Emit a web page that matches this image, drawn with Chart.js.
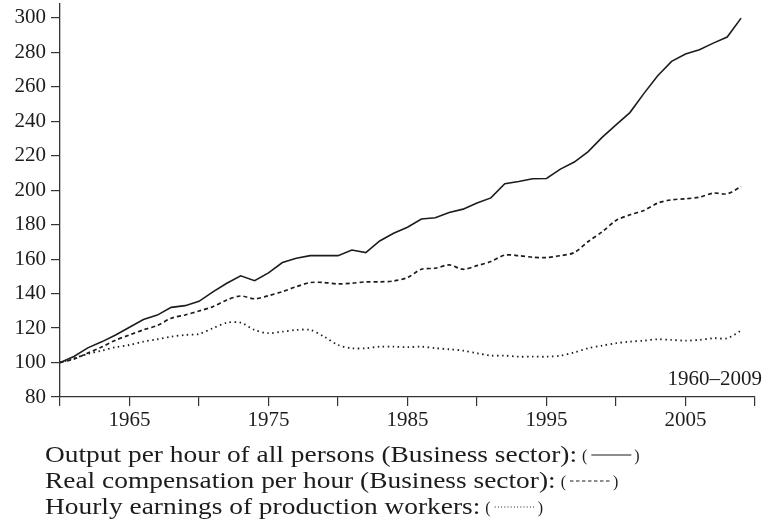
<!DOCTYPE html>
<html>
<head>
<meta charset="utf-8">
<script src="https://cdn.jsdelivr.net/npm/chart.js@4"></script>
<style>
  html, body { margin: 0; padding: 0; background: #fff; }
  #chart { display: block; }
</style>
</head>
<body>
<canvas id="chart" width="771" height="523"></canvas>
<script>
// index numbers, 1960 = 100
var years = [];
for (var yr = 1960; yr <= 2009; yr++) years.push(yr);

var outputPerHour = [
    100, 103.5, 108.5, 112, 116, 120.5, 125, 127.5, 132, 133,
    135.5, 141, 146, 150.3, 147.5, 152, 158, 160.5, 162, 162,
    162, 165.3, 163.8, 170.5, 175, 178.5, 183.3, 184, 187, 189,
    192.6, 195.5, 203.7, 205, 206.6, 206.8, 212.2, 216.3, 222.4, 230.6,
    237.9, 245, 256, 266.4, 274.7, 279, 281.5, 285.3, 288.8, 299.8
];
var realCompensation = [
    100, 102, 105.5, 109, 113, 116, 119, 121.5, 125.7, 127.6,
    129.9, 132.4, 136.3, 138.6, 137, 138.8, 141.1, 144, 146.4, 146.4,
    145.6, 146, 146.8, 146.8, 147.3, 149.3, 154.1, 154.7, 156.6, 154.1,
    156.2, 158.6, 162.3, 162, 161.1, 160.9, 162, 163.8, 170.2, 175.8,
    182.4, 185.7, 188.2, 192.5, 194.4, 195, 195.9, 198.3, 197.9, 202.1
];
var hourlyEarnings = [
    100, 102.5, 105, 106.9, 108.9, 110.2, 112.1, 113.5, 115, 116,
    116.6, 119.9, 123.1, 123.1, 118.9, 117, 117.9, 118.9, 118.9, 115,
    110.2, 108.3, 108.3, 109.2, 109.2, 108.9, 109.2, 108.3, 107.7, 106.9,
    105.4, 104, 104, 103.4, 103.4, 103.4, 104, 105.9, 108.3, 109.8,
    111.2, 112.1, 112.7, 113.5, 113.1, 112.7, 113.1, 114.1, 114.1, 118.5
];

var xTicks = [1960, 1965, 1970, 1975, 1980, 1985, 1990, 1995, 2000, 2005, 2010];
var xLabels = [1965, 1975, 1985, 1995, 2005];
var yTicks = [80, 100, 120, 140, 160, 180, 200, 220, 240, 260, 280, 300];

var legendLines = [
    { text: 'Output per hour of all persons (Business sector):', dash: [] },
    { text: 'Real compensation per hour (Business sector):', dash: [3.5, 2.5] },
    { text: 'Hourly earnings of production workers:', dash: [1, 2.2] }
];
var periodLabel = '1960\u20132009';

var FONT = '"Liberation Serif", "Times New Roman", serif';
var INK = '#1c1c1c';

function toPoints(values) {
    return values.map(function(v, i) { return { x: years[i], y: v }; });
}

// the original uses a wide TeX face, so stretch the legend text to its width
var legendPlugin = {
    id: 'texLegend',
    afterDraw: function(chart) {
        var ctx = chart.ctx;
        ctx.save();
        ctx.fillStyle = INK;
        ctx.strokeStyle = INK;
        ctx.textBaseline = 'alphabetic';

        ctx.font = '21px ' + FONT;
        ctx.textAlign = 'right';
        ctx.fillText(periodLabel, 762, 385);

        ctx.textAlign = 'left';
        ctx.font = '23px ' + FONT;
        var sx = 532 / ctx.measureText(legendLines[0].text).width;
        var baselines = [462, 488, 514];
        legendLines.forEach(function(item, i) {
            var y = baselines[i];
            ctx.font = '23px ' + FONT;
            ctx.save();
            ctx.translate(45, y);
            ctx.scale(sx, 1);
            ctx.fillText(item.text, 0, 0);
            ctx.restore();
            var x = 45 + ctx.measureText(item.text).width * sx + 5;
            ctx.font = '16px ' + FONT;
            ctx.fillText('(', x, y - 1);
            x += ctx.measureText('(').width + 4;
            ctx.beginPath();
            ctx.setLineDash(item.dash);
            ctx.lineWidth = 1.2;
            ctx.moveTo(x, y - 7);
            ctx.lineTo(x + 40, y - 7);
            ctx.stroke();
            ctx.setLineDash([]);
            ctx.fillText(')', x + 43, y - 1);
        });
        ctx.restore();
    }
};

var ctx = document.getElementById('chart').getContext('2d');
var chart = new Chart(ctx, {
    type: 'line',
    data: {
        datasets: [
            {
                label: 'Output per hour of all persons (Business sector)',
                data: toPoints(outputPerHour),
                borderColor: INK,
                borderWidth: 1.6,
                pointRadius: 0,
                tension: 0
            },
            {
                label: 'Real compensation per hour (Business sector)',
                data: toPoints(realCompensation),
                borderColor: INK,
                borderWidth: 1.7,
                borderDash: [4, 3],
                pointRadius: 0,
                tension: 0.3
            },
            {
                label: 'Hourly earnings of production workers',
                data: toPoints(hourlyEarnings),
                borderColor: INK,
                borderWidth: 1.8,
                borderDash: [1.5, 3.5],
                pointRadius: 0,
                tension: 0.3
            }
        ]
    },
    options: {
        responsive: false,
        animation: false,
        devicePixelRatio: 1,
        layout: { padding: { top: 4, right: 16, left: 0, bottom: 0 } },
        plugins: {
            legend: { display: false },
            tooltip: { enabled: false }
        },
        scales: {
            x: {
                type: 'linear',
                min: 1960,
                max: 2010,
                afterBuildTicks: function(scale) {
                    scale.ticks = xTicks.map(function(v) { return { value: v }; });
                },
                afterFit: function(scale) {
                    scale.height = 126;
                    scale.paddingLeft = 0;
                    scale.paddingRight = 0;
                },
                ticks: {
                    autoSkip: false,
                    maxRotation: 0,
                    color: INK,
                    padding: 2,
                    font: { family: FONT, size: 21 },
                    callback: function(v) {
                        return xLabels.indexOf(v) >= 0 ? String(v) : '';
                    }
                },
                grid: {
                    drawOnChartArea: false,
                    drawTicks: true,
                    tickLength: 9,
                    color: '#333',
                    lineWidth: 1.2
                },
                border: { display: true, color: '#333', width: 1.3 }
            },
            y: {
                min: 80,
                max: 308,
                afterBuildTicks: function(scale) {
                    scale.ticks = yTicks.map(function(v) { return { value: v }; });
                },
                afterFit: function(scale) {
                    scale.width = 60;
                    scale.paddingTop = 0;
                    scale.paddingBottom = 0;
                },
                ticks: {
                    color: INK,
                    padding: 5,
                    font: { family: FONT, size: 21 }
                },
                grid: {
                    drawOnChartArea: false,
                    drawTicks: true,
                    tickLength: 9,
                    color: '#333',
                    lineWidth: 1.2
                },
                border: { display: true, color: '#333', width: 1.3 }
            }
        }
    },
    plugins: [legendPlugin]
});
</script>
</body>
</html>
